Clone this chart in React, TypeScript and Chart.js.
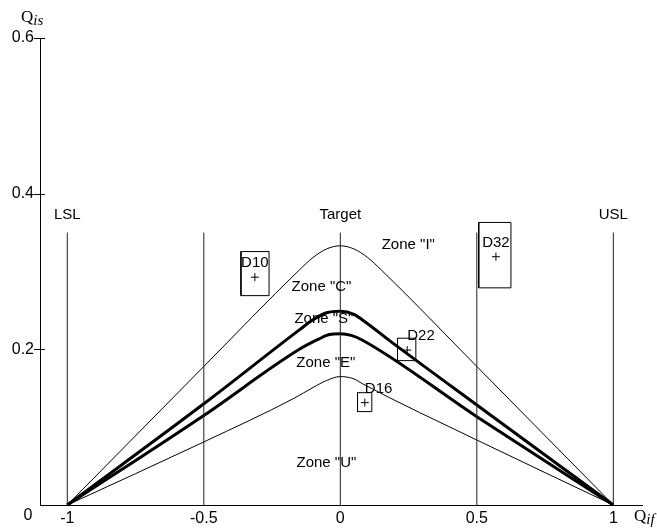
import React, { useEffect, useRef } from "react";
import { Chart, registerables } from "chart.js";

Chart.register(...registerables);

// ---- axis ticks ----
const xTickValues = [-1, -0.5, 0, 0.5, 1];
const yTickValues = [0, 0.2, 0.4, 0.6];

// ---- reference (spec) lines ----
const refLineX = [-1, -0.5, 0, 0.5, 1];
const refLineTop = 0.35;
const specNames = ["LSL", "Target", "USL"];
const specX = [-1, 0, 1];
const specLabelY = 0.373;

// ---- zone boundary curves ----
const zoneIX = [-1, -0.5, -0.15, -0.1, -0.05, 0, 0.05, 0.1, 0.15, 0.5, 1];
const zoneIY = [0, 0.178, 0.302, 0.318, 0.329, 0.333, 0.329, 0.318, 0.302, 0.178, 0];

const zoneSX = [-1, -0.5, -0.15, -0.1, -0.05, 0, 0.05, 0.08, 0.2, 0.5, 1];
const zoneSY = [0, 0.13, 0.225, 0.238, 0.247, 0.249, 0.245, 0.238, 0.206, 0.1285, 0];

const zoneEX = [-1, -0.5, -0.15, -0.08, -0.04, 0, 0.04, 0.08, 0.5, 1];
const zoneEY = [0, 0.115, 0.2, 0.213, 0.219, 0.22, 0.218, 0.212, 0.1135, 0];

const zoneUX = [-1, -0.5, -0.17, -0.1, -0.05, 0, 0.05, 0.08, 0.5, 1];
const zoneUY = [0, 0.081, 0.137, 0.151, 0.16, 0.165, 0.162, 0.156, 0.0835, 0];

// ---- zone labels ----
const zoneNames = ['Zone "I"', 'Zone "C"', 'Zone "S"', 'Zone "E"', 'Zone "U"'];
const zoneLabelX = [0.249, -0.069, -0.06, -0.053, -0.051];
const zoneLabelY = [0.334, 0.2806, 0.2387, 0.183, 0.0536];

// ---- measured points with uncertainty boxes ----
const pointNames = ["D10", "D32", "D22", "D16"];
const pointX = [-0.313, 0.57, 0.245, 0.0897];
const pointY = [0.2927, 0.319, 0.199, 0.1315];
const boxXMin = [-0.364, 0.507, 0.2095, 0.063];
const boxXMax = [-0.261, 0.625, 0.2766, 0.1154];
const boxYMin = [0.269, 0.279, 0.1855, 0.12];
const boxYMax = [0.3256, 0.363, 0.2143, 0.1443];
const pointLabelAlign: CanvasTextAlign[] = ["center", "center", "left", "left"];

const FONT = '"Liberation Sans", Arial, sans-serif';

const toXY = (xs: number[], ys: number[]) => xs.map((x, i) => ({ x, y: ys[i] }));

const annotPlugin = {
  id: "annot",
  afterDraw(chart: any) {
    const { ctx, chartArea } = chart;
    const xs = chart.scales.x;
    const ys = chart.scales.y;
    ctx.save();
    ctx.fillStyle = "#000";
    ctx.strokeStyle = "#000";
    ctx.lineWidth = 1;

    // y tick marks crossing the axis
    yTickValues.forEach((v) => {
      if (v === 0) return;
      const py = Math.round(ys.getPixelForValue(v)) + 0.5;
      ctx.beginPath();
      ctx.moveTo(chartArea.left - 6, py);
      ctx.lineTo(chartArea.left + 5, py);
      ctx.stroke();
    });

    // origin "0"
    ctx.font = `16px ${FONT}`;
    ctx.textAlign = "center";
    ctx.textBaseline = "middle";
    ctx.fillText(String(yTickValues[0]), chartArea.left - 12, chartArea.bottom + 11);

    // spec labels
    ctx.font = `15px ${FONT}`;
    specNames.forEach((n, i) => {
      ctx.fillText(n, xs.getPixelForValue(specX[i]), ys.getPixelForValue(specLabelY));
    });

    // zone labels
    zoneNames.forEach((n, i) => {
      ctx.fillText(n, xs.getPixelForValue(zoneLabelX[i]), ys.getPixelForValue(zoneLabelY[i]));
    });

    // point labels
    pointNames.forEach((n, i) => {
      ctx.textAlign = pointLabelAlign[i];
      ctx.fillText(n, xs.getPixelForValue(pointX[i]), ys.getPixelForValue(pointY[i]) - 14);
    });

    // axis titles
    ctx.textAlign = "left";
    ctx.textBaseline = "alphabetic";
    ctx.font = `17px "Liberation Serif", serif`;
    ctx.fillText("Q", 21, 22);
    const qw = ctx.measureText("Q").width;
    ctx.font = `italic 15px "Liberation Serif", serif`;
    ctx.fillText("is", 21 + qw, 25);

    ctx.font = `17px "Liberation Serif", serif`;
    const qx = chartArea.right - 8;
    ctx.fillText("Q", qx, 521);
    ctx.font = `italic 15px "Liberation Serif", serif`;
    ctx.fillText("if", qx + qw, 524);

    ctx.restore();
  },
};

export default function App() {
  const ref = useRef<HTMLCanvasElement>(null);

  useEffect(() => {
    if (!ref.current) return;
    const datasets: any[] = [];

    refLineX.forEach((x) => {
      datasets.push({
        data: [
          { x, y: 0 },
          { x, y: refLineTop },
        ],
        showLine: true,
        borderColor: "#222",
        borderWidth: 1,
        pointRadius: 0,
      });
    });

    const curve = (xs: number[], ys: number[], w: number) => ({
      data: toXY(xs, ys),
      showLine: true,
      borderColor: "#000",
      borderWidth: w,
      pointRadius: 0,
      cubicInterpolationMode: "monotone",
    });
    datasets.push(curve(zoneIX, zoneIY, 1));
    datasets.push(curve(zoneSX, zoneSY, 3));
    datasets.push(curve(zoneEX, zoneEY, 3));
    datasets.push(curve(zoneUX, zoneUY, 1));

    pointNames.forEach((_, i) => {
      datasets.push({
        data: [
          { x: boxXMin[i], y: boxYMin[i] },
          { x: boxXMax[i], y: boxYMin[i] },
          { x: boxXMax[i], y: boxYMax[i] },
          { x: boxXMin[i], y: boxYMax[i] },
          { x: boxXMin[i], y: boxYMin[i] },
        ],
        showLine: true,
        borderColor: "#000",
        borderWidth: 1,
        pointRadius: 0,
        tension: 0,
      });
    });

    datasets.push({
      data: toXY(pointX, pointY),
      showLine: false,
      pointStyle: "cross",
      pointRadius: 4,
      borderColor: "#000",
      borderWidth: 1,
    });

    const chart = new Chart(ref.current, {
      type: "scatter",
      data: { datasets },
      plugins: [annotPlugin],
      options: {
        animation: false,
        responsive: true,
        maintainAspectRatio: false,
        layout: { padding: { top: 38, right: 15, left: 0, bottom: 0 } },
        plugins: { legend: { display: false }, tooltip: { enabled: false } },
        scales: {
          x: {
            type: "linear",
            min: -1.1,
            max: 1.105,
            afterBuildTicks: (s: any) => {
              s.ticks = xTickValues.map((v) => ({ value: v }));
            },
            afterFit: (s: any) => {
              s.height = 26;
            },
            grid: { display: false, drawTicks: false },
            border: { display: true, color: "#000", width: 1 },
            ticks: {
              color: "#000",
              font: { family: FONT, size: 16 },
              padding: 4,
              maxRotation: 0,
              autoSkip: false,
              callback: (v: any) => String(v),
            },
          },
          y: {
            type: "linear",
            min: 0,
            max: 0.6,
            afterBuildTicks: (s: any) => {
              s.ticks = yTickValues.map((v) => ({ value: v }));
            },
            afterFit: (s: any) => {
              s.width = 40;
            },
            grid: { display: false, drawTicks: false },
            border: { display: true, color: "#000", width: 1 },
            ticks: {
              color: "#000",
              font: { family: FONT, size: 16 },
              padding: 6,
              callback: (v: any) => (v === 0 ? "" : String(v)),
            },
          },
        },
      },
    });
    return () => chart.destroy();
  }, []);

  return (
    <div style={{ position: "fixed", left: 0, top: 0, width: 657, height: 531, background: "#fff" }}>
      <canvas ref={ref} />
    </div>
  );
}
